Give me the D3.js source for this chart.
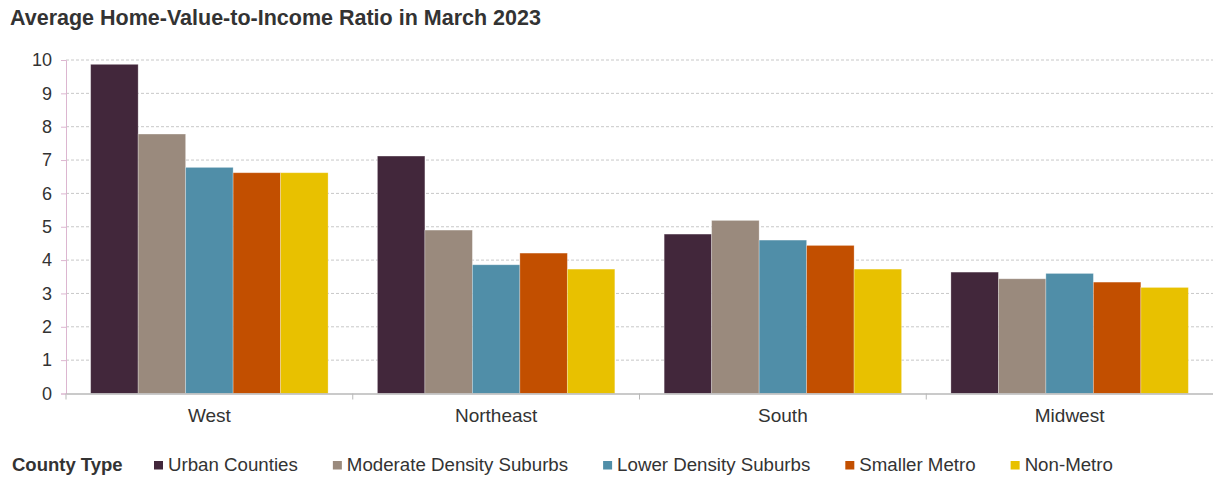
<!DOCTYPE html>
<html>
<head>
<meta charset="utf-8">
<script src="https://cdn.jsdelivr.net/npm/d3@7"></script>
<style>
  body { margin: 0; background: #fff; }
  text { font-family: "Liberation Sans", Arial, sans-serif; fill: #333; }
</style>
</head>
<body>
<script>
var regions = ["West", "Northeast", "South", "Midwest"];
var countyTypes = ["Urban Counties", "Moderate Density Suburbs", "Lower Density Suburbs", "Smaller Metro", "Non-Metro"];
// one array per county type, in region order
var urban = [9.87, 7.12, 4.78, 3.64];
var moderate = [7.78, 4.90, 5.19, 3.44];
var lower = [6.78, 3.86, 4.60, 3.60];
var smaller = [6.62, 4.21, 4.44, 3.34];
var nonMetro = [6.62, 3.73, 3.73, 3.18];
var yTicks = [0, 1, 2, 3, 4, 5, 6, 7, 8, 9, 10];
var colors = ["#42273b", "#9a8a7d", "#508ea8", "#c24f00", "#e8c100"];

var series = [urban, moderate, lower, smaller, nonMetro];

var width = 1213, height = 477;
var plotLeft = 66, plotRight = 1213, plotTop = 60, plotBottom = 393.5;

var svg = d3.select("body")
  .append("svg")
  .attr("width", width)
  .attr("height", height);

svg.append("text")
  .attr("x", 10)
  .attr("y", 25)
  .style("font-size", "21.5px")
  .style("font-weight", "bold")
  .text("Average Home-Value-to-Income Ratio in March 2023");

var x0 = d3.scaleBand().domain(regions).range([plotLeft, plotRight]).padding(0);
var step = x0.bandwidth();
var x1 = d3.scaleBand().domain(countyTypes)
  .range([step * 0.086, step * (1 - 0.086)]).padding(0);
var y = d3.scaleLinear().domain([0, 10]).range([plotBottom, plotTop]);

// gridlines
svg.append("g")
  .selectAll("line")
  .data(yTicks.filter(function(d) { return d > 0; }))
  .enter().append("line")
  .attr("x1", plotLeft)
  .attr("x2", plotRight)
  .attr("y1", function(d) { return y(d); })
  .attr("y2", function(d) { return y(d); })
  .attr("stroke", "#c8c8c8")
  .attr("stroke-dasharray", "3,2");

// bars
var groups = svg.append("g")
  .selectAll("g")
  .data(regions)
  .enter().append("g")
  .attr("transform", function(d) { return "translate(" + x0(d) + ",0)"; });

groups.selectAll("rect")
  .data(function(r, i) {
    return countyTypes.map(function(c, j) { return { type: c, value: series[j][i], k: j }; });
  })
  .enter().append("rect")
  .attr("x", function(d) { return x1(d.type); })
  .attr("width", x1.bandwidth())
  .attr("y", function(d) { return y(d.value); })
  .attr("height", function(d) { return plotBottom - y(d.value); })
  .attr("fill", function(d) { return colors[d.k]; })
  .attr("stroke", "#fff")
  .attr("stroke-opacity", 0.35)
  .attr("stroke-width", 0.8);

// y axis
var yAxis = svg.append("g")
  .attr("transform", "translate(" + plotLeft + ",0)")
  .call(d3.axisLeft(y).tickValues(yTicks).tickSize(5).tickPadding(9));
yAxis.select(".domain").attr("stroke", "#dcb6d0");
yAxis.selectAll(".tick line").attr("stroke", "#dcb6d0");
yAxis.selectAll(".tick text")
  .style("font-size", "18px")
  .style("font-family", "'Liberation Sans', Arial, sans-serif")
  .attr("fill", "#333");

// x axis
var xAxis = svg.append("g")
  .attr("transform", "translate(0," + plotBottom + ")")
  .call(d3.axisBottom(x0).tickSize(0).tickPadding(15));
xAxis.select(".domain").attr("stroke", "#b8b8b8").attr("stroke-width", 1.5);
xAxis.selectAll(".tick text")
  .style("font-size", "19px")
  .style("font-family", "'Liberation Sans', Arial, sans-serif")
  .attr("fill", "#333");

svg.append("g")
  .selectAll("line")
  .data(regions)
  .enter().append("line")
  .attr("x1", function(d) { return x0(d); })
  .attr("x2", function(d) { return x0(d); })
  .attr("y1", plotBottom)
  .attr("y2", plotBottom + 6)
  .attr("stroke", "#b8b8b8");

// legend
var legend = svg.append("g");
legend.append("text")
  .attr("x", 12)
  .attr("y", 471)
  .style("font-size", "18.5px")
  .style("font-weight", "bold")
  .text("County Type");

var lx = 154;
countyTypes.forEach(function(c, i) {
  legend.append("rect")
    .attr("x", lx)
    .attr("y", 461)
    .attr("width", 9)
    .attr("height", 8.5)
    .attr("fill", colors[i]);
  var t = legend.append("text")
    .attr("x", lx + 14)
    .attr("y", 471)
    .style("font-size", "18.7px")
    .text(c);
  lx += 14 + t.node().getComputedTextLength() + 35;
});
</script>
</body>
</html>
